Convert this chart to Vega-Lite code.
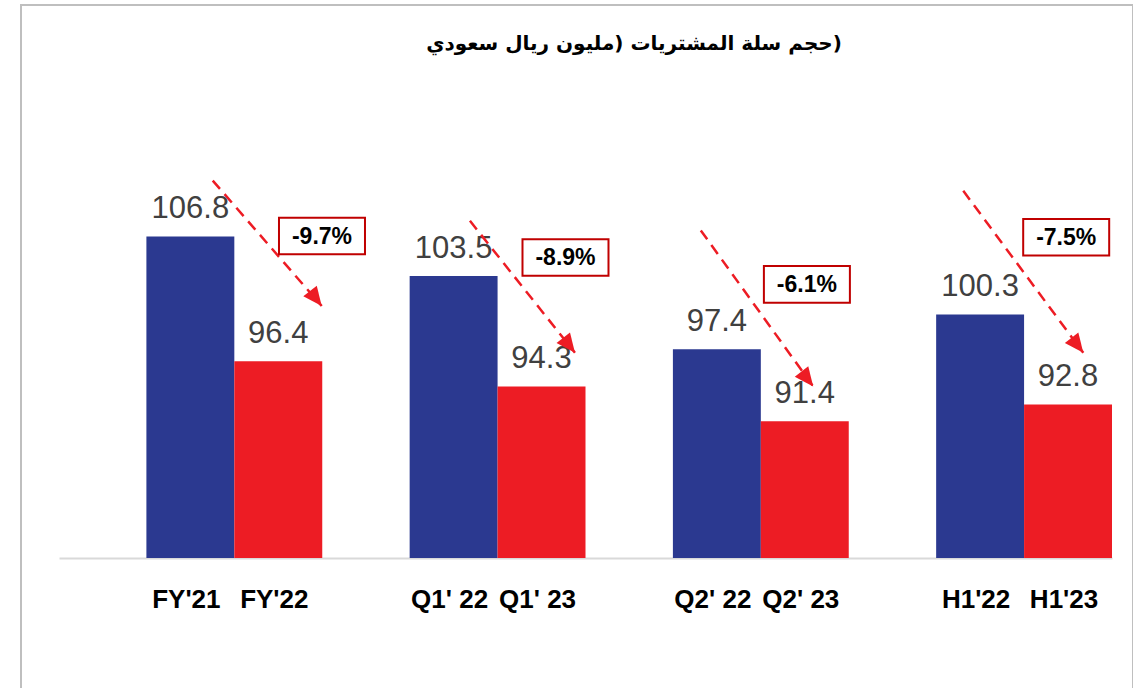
{
  "$schema": "https://vega.github.io/schema/vega-lite/v6.json",
  "width": 1112,
  "height": 686,
  "autosize": "none",
  "padding": {"left": 21, "top": 5, "right": 0, "bottom": 0},
  "background": "white",
  "config": {"view": {"stroke": "#BFBFBF", "strokeWidth": 2}, "font": "Liberation Sans"},
  "title": {
    "text": "‫(حجم سلة المشتريات (مليون  ريال سعودي‬",
    "font": "DejaVu Sans",
    "fontSize": 20,
    "fontWeight": "bold",
    "color": "#000000",
    "anchor": "middle",
    "frame": "group",
    "dx": 57,
    "offset": -49
  },
  "datasets": {
    "bars": [
      {"group": "FY", "series": "a", "label": "FY'21", "value": 106.8},
      {"group": "FY", "series": "b", "label": "FY'22", "value": 96.4},
      {"group": "Q1", "series": "a", "label": "Q1' 22", "value": 103.5},
      {"group": "Q1", "series": "b", "label": "Q1' 23", "value": 94.3},
      {"group": "Q2", "series": "a", "label": "Q2' 22", "value": 97.4},
      {"group": "Q2", "series": "b", "label": "Q2' 23", "value": 91.4},
      {"group": "H1", "series": "a", "label": "H1'22", "value": 100.3},
      {"group": "H1", "series": "b", "label": "H1'23", "value": 92.8}
    ],
    "ann": [
      {"group": "FY", "pct": "-9.7%", "x1": 0.584, "y1": 111.45, "x2": 0.998, "y2": 101.0, "bx": 0.999, "by": 106.83},
      {"group": "Q1", "pct": "-8.9%", "x1": 1.561, "y1": 108.1, "x2": 1.96, "y2": 97.1, "bx": 1.924, "by": 105.05},
      {"group": "Q2", "pct": "-6.1%", "x1": 2.438, "y1": 107.3, "x2": 2.865, "y2": 94.3, "bx": 2.841, "by": 102.8},
      {"group": "H1", "pct": "-7.5%", "x1": 3.435, "y1": 110.6, "x2": 3.891, "y2": 97.1, "bx": 3.826, "by": 106.73}
    ]
  },
  "layer": [
    {
      "data": {"name": "bars"},
      "encoding": {
        "x": {
          "field": "group",
          "type": "nominal",
          "sort": ["FY", "Q1", "Q2", "H1"],
          "scale": {"range": [38, 1091], "paddingInner": 0.332, "paddingOuter": 0.166, "align": 1},
          "axis": {"title": null, "labels": false, "ticks": false, "grid": false, "domainColor": "#D9D9D9", "domainWidth": 2, "offset": -133}
        },
        "xOffset": {"field": "series", "type": "nominal", "scale": {"paddingInner": 0, "paddingOuter": 0}}
      },
      "layer": [
        {
          "mark": {"type": "bar"},
          "encoding": {
            "y": {"field": "value", "type": "quantitative", "scale": {"domain": [80, 120], "range": [553, 73], "zero": false, "nice": false}, "axis": null},
            "y2": {"datum": 80},
            "color": {"field": "series", "type": "nominal", "scale": {"domain": ["a", "b"], "range": ["#2B3990", "#ED1C24"]}, "legend": null}
          }
        },
        {
          "mark": {"type": "text", "fontSize": 31, "color": "#404040", "baseline": "alphabetic", "dy": -18},
          "encoding": {
            "y": {"field": "value", "type": "quantitative"},
            "text": {"field": "value", "type": "quantitative", "format": ".1f"}
          }
        },
        {
          "mark": {"type": "text", "fontSize": 26, "fontWeight": "bold", "color": "#000000", "baseline": "alphabetic", "dy": 50, "dx": -4},
          "encoding": {
            "y": {"datum": 80},
            "text": {"field": "label", "type": "nominal"}
          }
        }
      ]
    },
    {
      "data": {"name": "ann"},
      "layer": [
        {
          "mark": {"type": "rule", "color": "#ED1C24", "strokeWidth": 2.5, "strokeDash": [11, 7]},
          "encoding": {
            "x": {"field": "x1", "type": "quantitative", "scale": {"domain": [0, 4], "range": [38, 1091], "zero": false, "nice": false}, "axis": null},
            "x2": {"field": "x2"},
            "y": {"field": "y1", "type": "quantitative"},
            "y2": {"field": "y2"}
          }
        },
        {
          "mark": {"type": "point", "shape": "M0,0L-0.45,-1L0.45,-1Z", "size": 1444, "angle": -38, "filled": true, "color": "#ED1C24", "opacity": 1},
          "encoding": {
            "x": {"field": "x2", "type": "quantitative"},
            "y": {"field": "y2", "type": "quantitative"}
          }
        },
        {
          "mark": {"type": "point", "shape": "M-1,-0.425L1,-0.425L1,0.425L-1,0.425Z", "size": 7396, "filled": true, "fill": "#FFFFFF", "stroke": "#C00000", "strokeWidth": 2, "opacity": 1},
          "encoding": {
            "x": {"field": "bx", "type": "quantitative"},
            "y": {"field": "by", "type": "quantitative"}
          }
        },
        {
          "mark": {"type": "text", "fontSize": 23, "fontWeight": "bold", "color": "#000000", "baseline": "middle", "dy": 1},
          "encoding": {
            "x": {"field": "bx", "type": "quantitative"},
            "y": {"field": "by", "type": "quantitative"},
            "text": {"field": "pct", "type": "nominal"}
          }
        }
      ]
    }
  ],
  "resolve": {"scale": {"x": "independent"}}
}
